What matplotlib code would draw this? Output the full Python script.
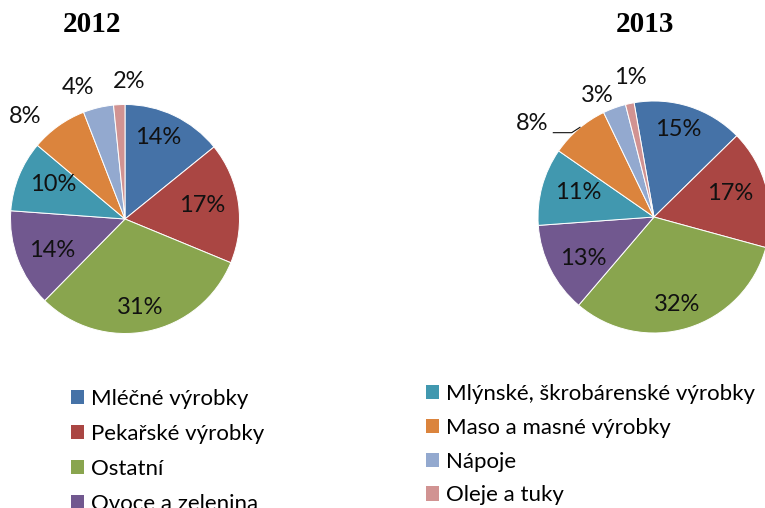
import matplotlib.pyplot as plt
from matplotlib.patches import Patch
import numpy as np

plt.rcParams['font.family'] = ['Lato', 'DejaVu Sans']

categories = ['Mléčné výrobky', 'Pekařské výrobky', 'Ostatní', 'Ovoce a zelenina',
              'Mlýnské, škrobárenské výrobky', 'Maso a masné výrobky', 'Nápoje', 'Oleje a tuky']
# shares in % (labels are rounded)
share_2012 = [14.2, 17.1, 31.2, 13.8, 10.0, 8.0, 4.3, 1.6]
share_2013 = [15.4, 16.6, 32.0, 12.6, 10.8, 8.2, 3.2, 1.2]
colors = ['#4572A7', '#AA4643', '#89A54E', '#71588F', '#4198AF', '#DB843D', '#93A9CF', '#D19392']

W, H = 765, 508
fig = plt.figure(figsize=(W / 100, H / 100), dpi=100)


def draw_pie(values, cx, cy, r, start, outside):
    # cx, cy in pixels from top-left, r = pie radius in pixels
    half = 170
    ax = fig.add_axes([(cx - half) / W, (H - cy - half) / H, 2 * half / W, 2 * half / H])
    wedges, _ = ax.pie(values, colors=colors, startangle=start, counterclock=False,
                       wedgeprops=dict(edgecolor='white', linewidth=0.7))
    for i, (w, v) in enumerate(zip(wedges, values)):
        mid = np.deg2rad((w.theta1 + w.theta2) / 2)
        if i in outside:
            shift, dist = outside[i]
            a = mid + np.deg2rad(shift)
            x, y = dist * np.cos(a), dist * np.sin(a)
        else:
            x, y = 0.68 * np.cos(mid), 0.79 * np.sin(mid)
        ax.text(x, y, f'{v:.0f}%', ha='center', va='center', fontsize=17, color='#111111')
    ax.set_xlim(-half / r, half / r)
    ax.set_ylim(-half / r, half / r)
    ax.axis('off')
    return ax


draw_pie(share_2012, 125, 219, 114.5, 90, {5: (8.6, 1.25), 6: (6.2, 1.22), 7: (-4.6, 1.20)})
ax2 = draw_pie(share_2013, 654, 217, 116, 99.9, {5: (12, 1.32), 6: (5, 1.16), 7: (-2.4, 1.22)})

# leader line for the 8 % label of 2013
ax2.plot([-0.868, -0.709, -0.638], [0.727, 0.727, 0.773], color='#111111', lw=0.8)

fig.text(92 / W, 1 - 25 / H, '2012', family='Liberation Serif', weight='bold', fontsize=21,
         ha='center', va='center')
fig.text(645 / W, 1 - 25 / H, '2013', family='Liberation Serif', weight='bold', fontsize=21,
         ha='center', va='center')

handles = [Patch(facecolor=c) for c in colors]
leg_kw = dict(loc='upper left', frameon=False, fontsize=16, handlelength=0.6, handleheight=0.6,
              handletextpad=0.3, borderpad=0, borderaxespad=0)
fig.legend(handles[:4], categories[:4], bbox_to_anchor=(71 / W, 1 - 389 / H),
           labelspacing=0.67, **leg_kw)
fig.legend(handles[4:], categories[4:], bbox_to_anchor=(426 / W, 1 - 384 / H),
           labelspacing=0.62, **leg_kw)

fig.savefig('out.png', dpi=100)
